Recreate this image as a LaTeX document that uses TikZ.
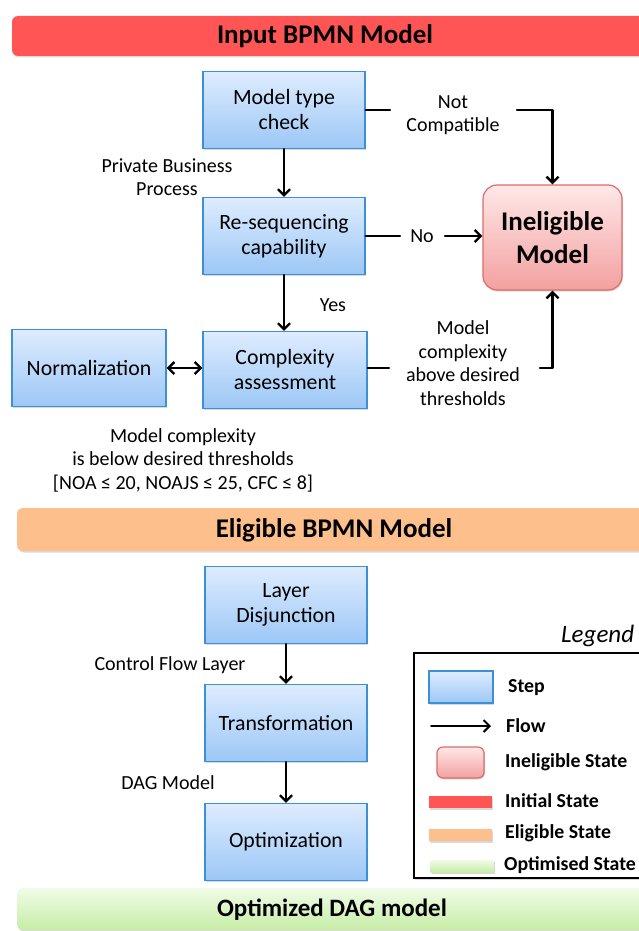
\documentclass[tikz,border=0pt]{standalone}
\usepackage{fontspec}
\setmainfont{Carlito}
\usepackage{xcolor}
\usetikzlibrary{arrows.meta,shadows}

\definecolor{initred}{HTML}{FF5555}
\definecolor{eligorange}{HTML}{FDBF8B}
\definecolor{optgreenA}{HTML}{F0FCE8}
\definecolor{optgreenB}{HTML}{C6EDA6}
\definecolor{stepline}{HTML}{3D8FD6}
\definecolor{steptop}{HTML}{DEECFE}
\definecolor{stepbot}{HTML}{9CC7F6}
\definecolor{inelline}{HTML}{E06A6A}
\definecolor{ineltop}{HTML}{FFE8E8}
\definecolor{inelbot}{HTML}{F3A0A0}

\begin{document}
\begin{tikzpicture}[x=1pt, y=-1pt]
  \tikzstyle{myline}=[black, line width=2.4pt, line cap=round, line join=round];
  \tikzstyle{flow}=[myline, ->, >={Straight Barb[length=6pt, width=12pt]}];
  \tikzstyle{shad}=[drop shadow={opacity=0.3, shadow xshift=1pt, shadow yshift=-1.5pt}];
  \useasboundingbox (0,0) rectangle (638,931);
  %
  % state bars
  \tikzstyle{bar}=[rounded corners=6pt, shad];
  \tikzstyle{bartxt}=[font=\fontsize{27}{30}\selectfont\bfseries, inner sep=0pt];
  \fill[bar, initred] (12,16) rectangle (660,56);
  \node[bartxt] (inp) at (325,36) {Input BPMN Model};
  \fill[bar, eligorange] (17,508) rectangle (660,551);
  \node[bartxt] (elig) at (334,530) {Eligible BPMN Model};
  \shade[bar, top color=optgreenA, bottom color=optgreenB] (17,888) rectangle (660,930);
  \node[bartxt, font=\fontsize{25}{30}\selectfont\bfseries] (optm) at (332,910) {Optimized DAG model};
  %
  % steps
  \tikzstyle{stepbox}=[draw=stepline, line width=1.2pt, top color=steptop,
    bottom color=stepbot, minimum width=162pt, minimum height=77pt,
    align=center, font=\fontsize{21.8}{25}\selectfont, shad];
  \node[stepbox] (mtc) at (284,110) {Model type\\check};
  \node[stepbox] (rsq) at (284,236) {Re-sequencing\\capability};
  \node[stepbox, minimum width=164pt] (cpx) at (285,370) {Complexity\\assessment};
  \node[stepbox, minimum width=154pt] (norm) at (89,368) {Normalization};
  \node[stepbox] (lay) at (286,605) {Layer\\Disjunction};
  \node[stepbox] (trf) at (286,723) {Transformation};
  \node[stepbox] (opt) at (286,842) {Optimization};
  %
  % ineligible state
  \tikzstyle{inel}=[draw=inelline, line width=1.2pt, rounded corners=14pt,
    top color=ineltop, bottom color=inelbot, align=center, shad];
  \node[inel, minimum width=139pt, minimum height=105pt,
    font=\fontsize{27}{33}\selectfont\bfseries] (inl) at (552.5,237.5) {Ineligible\\Model};
  %
  % labels
  \tikzstyle{lbl}=[font=\fontsize{20}{23.5}\selectfont, align=center, inner sep=0pt];
  \node[lbl] (pbp) at (167,177) {Private Business\\Process};
  \node[lbl] (nc) at (453,115) {Not\\Compatible};
  \node[lbl] (no) at (422,236) {No};
  \node[lbl] (yes) at (333,305) {Yes};
  \node[lbl] (abv) at (463,363) {Model\\complexity\\above desired\\thresholds};
  \node[lbl] (blw) at (183,460) {Model complexity\\is below desired thresholds\\{[NOA ≤ 20, NOAJS ≤ 25, CFC ≤ 8]}};
  \node[lbl] (cfl) at (170,665) {Control Flow Layer};
  \node[lbl] (dag) at (168,783) {DAG Model};
  %
  % flows
  \coordinate (ncA) at (390,110);
  \coordinate (ncB) at (517,110);
  \coordinate (noA) at (400,236);
  \coordinate (noB) at (445,236);
  \coordinate (abA) at (389,368);
  \coordinate (abB) at (540,368);
  \draw[flow] (mtc) -- (rsq);
  \draw[flow] (rsq) -- (rsq |- cpx.north);
  \draw[flow, <->] (norm) -- (norm -| cpx.west);
  \draw[myline] (mtc) -- (ncA);
  \draw[flow] (ncB) -| (inl);
  \draw[myline] (rsq) -- (noA);
  \draw[flow] (noB) -- (noB -| inl.west);
  \draw[myline] (cpx.east |- abA) -- (abA);
  \draw[flow] (abB) -| (inl);
  \draw[flow] (lay) -- (trf);
  \draw[flow] (trf) -- (opt);
  %
  % legend
  \tikzstyle{lgtxt}=[font=\fontsize{19.8}{24}\selectfont\bfseries, anchor=west, inner sep=0pt];
  \draw[line width=2.5pt, fill=white, shad] (414,653) rectangle (660,878);
  \node[font=\fontsize{25}{28}\selectfont\itshape, anchor=west, inner sep=0pt] (leg) at (561,636) {Legend};
  \node[stepbox, minimum width=64pt, minimum height=32pt] (lstep) at (461,687) {};
  \node[lgtxt] (tstep) at (508,688) {Step};
  \coordinate (lflA) at (431,726);
  \coordinate (lflB) at (491,726);
  \draw[flow, line width=2pt] (lflA) -- (lflB);
  \node[lgtxt] (tflow) at (506,726) {Flow};
  \node[inel, rounded corners=6pt, minimum width=47pt, minimum height=31pt] (linl) at (460.5,762.5) {};
  \node[lgtxt] (tinl) at (505,762) {Ineligible State};
  \tikzstyle{lgbar}=[minimum width=63pt, minimum height=12pt, inner sep=0pt, shad];
  \node[lgbar, fill=initred] (linit) at (460.5,802) {};
  \node[lgtxt] (tinit) at (505,801) {Initial State};
  \node[lgbar, fill=eligorange] (lelig) at (460.5,835) {};
  \node[lgtxt] (telig) at (505,833) {Eligible State};
  \node[lgbar, top color=optgreenA, bottom color=optgreenB] (lopt) at (462,866) {};
  \node[lgtxt] (topt) at (504,865) {Optimised State};
\end{tikzpicture}
\end{document}
